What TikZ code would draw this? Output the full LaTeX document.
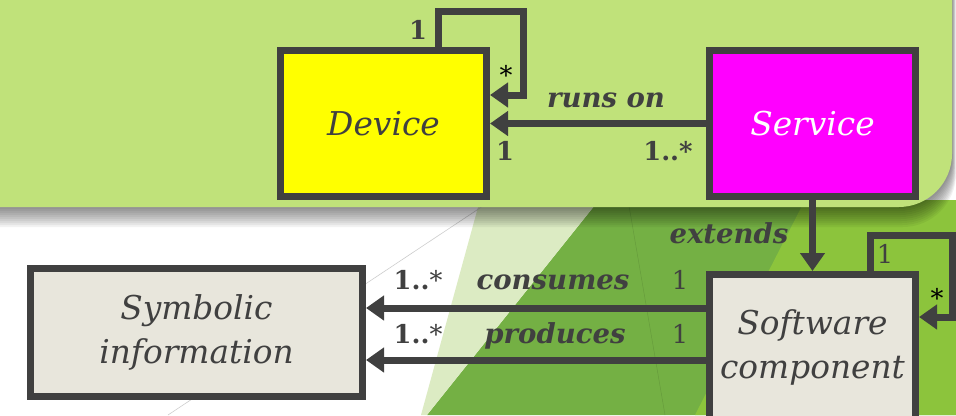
\documentclass[tikz,border=0pt]{standalone}
\usepackage{fontspec}
\setmainfont{DejaVu Serif}
\usepackage{tikz}
\usetikzlibrary{arrows.meta,calc}

\definecolor{bandgreen}{HTML}{C0E27A}
\definecolor{darkgreen}{HTML}{74B044}
\definecolor{palegreen}{HTML}{DCEBC3}
\definecolor{limegreen}{HTML}{8CC43C}
\definecolor{edgegray}{HTML}{404040}
\definecolor{boxbeige}{HTML}{E8E6DC}
\definecolor{devyellow}{RGB}{255,255,0}
\definecolor{svcmagenta}{RGB}{255,0,255}

\begin{document}
\begin{tikzpicture}[x=0.03cm,y=-0.03cm,
  cls/.style={draw=edgegray, line width=0.21cm, minimum width=6.18cm, minimum height=4.38cm,
    inner sep=0pt, align=center, text=edgegray, font=\fontsize{28}{37}\selectfont\itshape},
  assoc/.style={draw=edgegray, line width=0.21cm, -{Triangle[length=0.54cm,width=0.72cm]}},
  lbl/.style={anchor=base, text=edgegray, font=\fontsize{23.5}{25}\selectfont\bfseries\itshape},
  mult/.style={anchor=base, text=edgegray, font=\fontsize{22}{24}\selectfont\bfseries},
  star/.style={anchor=base, text=black, font=\fontsize{22}{24}\selectfont}]

\useasboundingbox (0,0) rectangle (956,415);
\clip (0,0) rectangle (956,415);

% slide background
\fill[white] (0,0) rectangle (956,415);
\fill[darkgreen] (599,200) -- (956,200) -- (956,415) -- (427,415) -- cycle;
\fill[palegreen] (480,200) -- (599,200) -- (427,415) -- (421,415) -- cycle;
\fill[limegreen] (805,200) -- (956,200) -- (956,415) -- (695,415) -- cycle;
\draw[gray!40, line width=0.5pt] (492,200) -- (168,415);
\draw[darkgreen!70!black, opacity=0.4] (628,200) -- (665,415);
\foreach \d in {2,4,...,20}
  \fill[black, opacity=0.05, rounded corners=1.6cm] (-60,-60) rectangle (952+\d/5,207+\d);
\fill[bandgreen, rounded corners=1.6cm] (-60,-60) rectangle (952,207);

% classes
\node[cls, fill=devyellow] (device) at (383.5,123.5) {Device};
\node[cls, fill=svcmagenta, text=white] (service) at (812.5,123.5) {Service};
\node[cls, fill=boxbeige] (software) at (812.5,347.5) {Software\\component};
\node[cls, fill=boxbeige, minimum width=9.96cm, minimum height=3.84cm] (symbolic) at (196.5,332.5) {Symbolic\\information};

% associations
\coordinate (devloop) at (523,11);
\coordinate (swloop) at (952,235.5);
\coordinate (cons) at ([yshift=1.185cm]software.west);
\coordinate (prod) at ([yshift=-0.375cm]software.west);

\draw[assoc] ([xshift=1.635cm]device.north) |- (devloop) |- ([yshift=0.855cm]device.east);
\draw[assoc] (service) -- (device);
\draw[assoc] (service) -- (software);
\draw[assoc] ([xshift=1.725cm]software.north) |- (swloop) |- ([yshift=0.915cm]software.east);
\draw[assoc] (cons) -- (cons -| symbolic.east);
\draw[assoc] (prod) -- (prod -| symbolic.east);

% labels
\node[mult] (m1) at (418,39) {1};
\node[star] (s1) at (506,84) {*};
\node[lbl] (runs) at (606,107) {runs on};
\node[mult] (m2) at (505,160) {1};
\node[mult] (m3) at (668,160) {1..*};
\node[lbl] (ext) at (729,243) {extends};
\node[star, text=edgegray] (m4) at (885,263) {1};
\node[star] (s2) at (937,307) {*};
\node[lbl] (consl) at (553,289) {consumes};
\node[lbl] (prodl) at (555,343) {produces};
\node[mult] (m5) at (418,289) {1..\textmd{*}};
\node[mult] (m6) at (418,343) {1..\textmd{*}};
\node[star, text=edgegray] (m7) at (680,289) {1};
\node[star, text=edgegray] (m8) at (680,343) {1};

\end{tikzpicture}
\end{document}
